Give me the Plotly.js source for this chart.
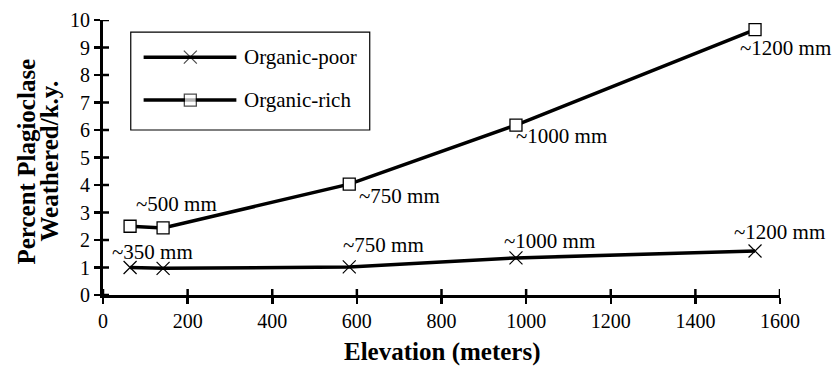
<!DOCTYPE html>
<html><head><meta charset="utf-8">
<script src="https://cdn.plot.ly/plotly-3.0.1.min.js"></script>
<style>body{margin:0;background:#fff}#c{width:834px;height:366px}</style>
</head><body><div id="c"></div>
<script>
const elevPoor = [64, 142, 582, 976, 1541];
const ratePoor = [1.0, 0.97, 1.02, 1.35, 1.6];
const labelsPoor = ['~350 mm', '', '~750 mm', '~1000 mm', '~1200 mm'];
const elevRich = [64, 142, 582, 976, 1541];
const rateRich = [2.5, 2.44, 4.03, 6.18, 9.65];
const labelsRich = ['', '~500 mm', '~750 mm', '~1000 mm', '~1200 mm'];
const xTicks = [0, 200, 400, 600, 800, 1000, 1200, 1400, 1600];
const yTicks = [0, 1, 2, 3, 4, 5, 6, 7, 8, 9, 10];
const seriesNames = ['Organic-poor', 'Organic-rich'];
const xTitle = 'Elevation (meters)';
const yTitleLines = ['Percent Plagioclase', 'Weathered/k.y.'];

const F = 'Liberation Serif';
const traces = [
  {x: elevPoor, y: ratePoor, mode: 'lines+markers', name: seriesNames[0], showlegend:false,
   line:{color:'#000', width:3.5}, marker:{symbol:'x-thin-open', size:13, color:'#000', line:{width:1.2, color:'#000'}}},
  {x: elevRich, y: rateRich, mode: 'lines+markers', name: seriesNames[1], showlegend:false,
   line:{color:'#000', width:3.5}, marker:{symbol:'square', size:12, color:'#fff', line:{width:1.3, color:'#000'}}},
  // legend sample markers (paper-fraction axes)
  {x: [0.129, 0.129], y: [0.865, 0.709], xaxis:'x3', yaxis:'y3', mode:'markers', showlegend:false, hoverinfo:'skip',
   marker:{symbol:['x-thin-open','square'], size:[13,12], color:['#000','#fff'], line:{width:[1.2,1.3], color:'#000'}}}
];

const ann = [];
// annotation offsets (styling only)
const offPoor = [[-20, 16], null, [-8, 22], [-14, 17], [-23, 19]];
const offRich = [null, [-29, 24], [8, -12], [-2, -11], [-17, -18]];
labelsPoor.forEach((t, i) => { if (t) ann.push({x: elevPoor[i], y: ratePoor[i], xref:'x', yref:'y', text:t, showarrow:false,
  xanchor:'left', yanchor:'middle', xshift: offPoor[i][0], yshift: offPoor[i][1], font:{family:F, size:21, color:'#000'}}); });
labelsRich.forEach((t, i) => { if (t) ann.push({x: elevRich[i], y: rateRich[i], xref:'x', yref:'y', text:t, showarrow:false,
  xanchor:'left', yanchor:'middle', xshift: offRich[i][0], yshift: offRich[i][1], font:{family:F, size:21, color:'#000'}}); });
ann.push({x:0.205, y:0.865, xref:'paper', yref:'paper', text:seriesNames[0], showarrow:false, xanchor:'left', yanchor:'middle', font:{family:F, size:21, color:'#000'}});
ann.push({x:0.205, y:0.709, xref:'paper', yref:'paper', text:seriesNames[1], showarrow:false, xanchor:'left', yanchor:'middle', font:{family:F, size:21, color:'#000'}});
// axis titles
ann.push({x:0.5, y:0, xref:'paper', yref:'paper', text:'<b>'+xTitle+'</b>', showarrow:false, xanchor:'center', yanchor:'middle',
  xshift:0, yshift:-57, font:{family:F, size:25, color:'#000'}});
ann.push({x:0, y:0.5, xref:'paper', yref:'paper', text:'<b>'+yTitleLines[0]+'</b>', showarrow:false, textangle:-90, xanchor:'center', yanchor:'middle',
  xshift:-77, yshift:-4, font:{family:F, size:25, color:'#000'}});
ann.push({x:0, y:0.5, xref:'paper', yref:'paper', text:'<b>'+yTitleLines[1]+'</b>', showarrow:false, textangle:-90, xanchor:'center', yanchor:'middle',
  xshift:-54, yshift:-4, font:{family:F, size:25, color:'#000'}});

const shapes = [
  {type:'rect', xref:'paper', yref:'paper', x0:0.041, x1:0.394, y0:0.6, y1:0.956, line:{color:'#000', width:1.2}, fillcolor:'rgba(0,0,0,0)'},
  {type:'line', xref:'paper', yref:'paper', x0:0.06, x1:0.197, y0:0.865, y1:0.865, line:{color:'#000', width:3.5}, layer:'below'},
  {type:'line', xref:'paper', yref:'paper', x0:0.06, x1:0.197, y0:0.709, y1:0.709, line:{color:'#000', width:3.5}, layer:'below'}
];
// inner half of crossing tick marks, placed through the axis scales
xTicks.forEach(v => shapes.push({type:'line', xref:'x', yref:'y', ysizemode:'pixel', yanchor:0, x0:v, x1:v, y0:0, y1:6,
  line:{color:'#000', width:2.5}}));
yTicks.forEach(v => shapes.push({type:'line', xref:'x', yref:'y', xsizemode:'pixel', xanchor:0, x0:0, x1:6, y0:v, y1:v,
  line:{color:'#000', width:2.5}}));

const axBase = {showgrid:false, zeroline:false, showline:true, linecolor:'#000', linewidth:3,
  ticks:'outside', ticklen:6, tickwidth:2.5, tickcolor:'#000', tickfont:{family:F, size:20, color:'#000'}};

const layout = {
  width:834, height:366, margin:{l:103, r:54, t:20, b:71},
  paper_bgcolor:'#fff', plot_bgcolor:'#fff', showlegend:false,
  font:{family:F, color:'#000'},
  xaxis: Object.assign({}, axBase, {range:[0,1600], tickvals:xTicks, ticktext:xTicks.map(String)}),
  yaxis: Object.assign({}, axBase, {range:[0,10], tickvals:yTicks, ticktext:yTicks.map(String)}),
  xaxis3: {overlaying:'x', anchor:'y3', range:[0,1], visible:false, fixedrange:true},
  yaxis3: {overlaying:'y', anchor:'x3', range:[0,1], visible:false, fixedrange:true},
  annotations: ann, shapes: shapes
};
Plotly.newPlot('c', traces, layout, {displayModeBar:false, staticPlot:true});
</script></body></html>
